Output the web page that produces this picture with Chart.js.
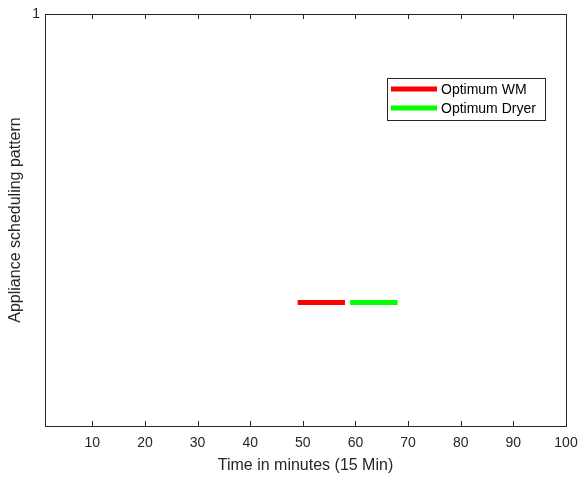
<!DOCTYPE html>
<html>
<head>
<meta charset="utf-8">
<script src="https://cdn.jsdelivr.net/npm/chart.js@4"></script>
<style>
  html, body { margin: 0; padding: 0; background: #fff; }
  #wrap { width: 580px; height: 477px; position: relative; }
</style>
</head>
<body>
<div id="wrap"><canvas id="schedChart"></canvas></div>
<script>
// --- data ---
const seriesNames = ['Optimum WM', 'Optimum Dryer'];
const seriesColors = ['#ff0000', '#00ff00'];
const wmTimes = [49, 58];
const wmLevel = [0.3, 0.3];
const dryerTimes = [59, 68];
const dryerLevel = [0.3, 0.3];
const xTicks = [10, 20, 30, 40, 50, 60, 70, 80, 90, 100];
const yTicks = [1];

const axisColor = '#262626';
const fontFamily = '"Liberation Sans", Arial, Helvetica, sans-serif';

function toPoints(xs, ys) {
    return xs.map((x, i) => ({ x: x, y: ys[i] }));
}

// MATLAB style box, inward ticks and boxed legend
const matlabFrame = {
    id: 'matlabFrame',
    afterDraw(chart) {
        const ctx = chart.ctx;
        const a = chart.chartArea;
        const xs = chart.scales.x, ys = chart.scales.y;
        ctx.save();
        ctx.strokeStyle = axisColor;
        ctx.lineWidth = 1;
        ctx.strokeRect(Math.round(a.left) + 0.5, Math.round(a.top) + 0.5,
            Math.round(a.right - a.left), Math.round(a.bottom - a.top));
        const tl = 5;
        ctx.beginPath();
        xTicks.forEach(v => {
            const px = Math.round(xs.getPixelForValue(v)) + 0.5;
            ctx.moveTo(px, a.bottom); ctx.lineTo(px, a.bottom - tl);
            ctx.moveTo(px, a.top); ctx.lineTo(px, a.top + tl);
        });
        yTicks.forEach(v => {
            const py = Math.round(ys.getPixelForValue(v)) + 0.5;
            ctx.moveTo(a.left, py); ctx.lineTo(a.left + tl, py);
            ctx.moveTo(a.right, py); ctx.lineTo(a.right - tl, py);
        });
        ctx.stroke();

        // legend
        const lx = 387, ly = 78, lw = 158, lh = 42;
        ctx.fillStyle = '#fff';
        ctx.fillRect(lx, ly, lw, lh);
        ctx.strokeStyle = axisColor;
        ctx.strokeRect(lx + 0.5, ly + 0.5, lw, lh);
        ctx.font = '14px ' + fontFamily;
        ctx.textBaseline = 'middle';
        chart.data.datasets.forEach((ds, i) => {
            const cy = ly + 11 + i * 19;
            ctx.strokeStyle = ds.borderColor;
            ctx.lineWidth = 5;
            ctx.beginPath();
            ctx.moveTo(lx + 4, cy);
            ctx.lineTo(lx + 50, cy);
            ctx.stroke();
            ctx.fillStyle = '#000';
            ctx.fillText(ds.label, lx + 54, cy + 1);
        });
        ctx.restore();
    }
};

new Chart(document.getElementById('schedChart'), {
    type: 'line',
    data: {
        datasets: [
            {
                label: seriesNames[0],
                data: toPoints(wmTimes, wmLevel),
                borderColor: seriesColors[0],
                borderWidth: 5,
                borderCapStyle: 'butt',
                pointRadius: 0
            },
            {
                label: seriesNames[1],
                data: toPoints(dryerTimes, dryerLevel),
                borderColor: seriesColors[1],
                borderWidth: 5,
                borderCapStyle: 'butt',
                pointRadius: 0
            }
        ]
    },
    options: {
        responsive: true,
        maintainAspectRatio: false,
        animation: false,
        layout: { padding: { top: 14, right: 14, left: 6, bottom: 0 } },
        plugins: { legend: { display: false }, tooltip: { enabled: false } },
        scales: {
            x: {
                type: 'linear',
                min: 1,
                max: 100,
                grid: { display: false, drawTicks: false },
                border: { display: false },
                afterBuildTicks: (scale) => { scale.ticks = xTicks.map(v => ({ value: v })); },
                afterFit: (scale) => {
                    scale.height = 51;
                    scale.paddingLeft = 0;
                    scale.paddingRight = 0;
                },
                ticks: {
                    color: axisColor,
                    padding: 9,
                    maxRotation: 0,
                    autoSkip: false,
                    font: { family: fontFamily, size: 14 }
                },
                title: {
                    display: true,
                    text: 'Time in minutes (15 Min)',
                    color: axisColor,
                    padding: { top: 1, bottom: 2 },
                    font: { family: fontFamily, size: 16 }
                }
            },
            y: {
                min: 0,
                max: 1,
                grid: { display: false, drawTicks: false },
                border: { display: false },
                afterBuildTicks: (scale) => { scale.ticks = yTicks.map(v => ({ value: v })); },
                afterFit: (scale) => {
                    scale.width = 39;
                    scale.paddingTop = 0;
                    scale.paddingBottom = 0;
                },
                ticks: {
                    color: axisColor,
                    padding: 5,
                    font: { family: fontFamily, size: 14 }
                },
                title: {
                    display: true,
                    text: 'Appliance scheduling pattern',
                    color: axisColor,
                    padding: { top: 0, bottom: 0 },
                    font: { family: fontFamily, size: 16 }
                }
            }
        }
    },
    plugins: [matlabFrame]
});
</script>
</body>
</html>
